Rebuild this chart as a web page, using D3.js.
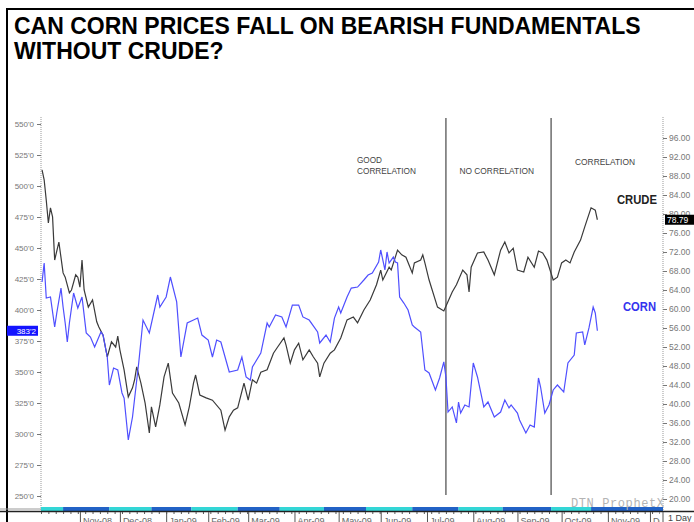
<!DOCTYPE html>
<html>
<head>
<meta charset="utf-8">
<script src="https://cdn.jsdelivr.net/npm/d3@7"></script>
<style>
  body { margin: 0; background: #fff; }
  svg { display: block; font-family: "Liberation Sans", Arial, sans-serif; }
</style>
</head>
<body>
<div id="chart"></div>
<script>
// x is counted in trading sessions from 1 Oct 2008 (ProphetX skips non-trading days)
const months = ["Oct-08", "Nov-08", "Dec-08", "Jan-09", "Feb-09", "Mar-09", "Apr-09", "May-09",
                "Jun-09", "Jul-09", "Aug-09", "Sep-09", "Oct-09", "Nov-09", "Dec-09"];
const sessionsPerMonth = [23, 19, 22, 20, 19, 22, 21, 20, 22, 22, 21, 21, 22, 20, 22];

// crude oil, $/bbl (right scale)
const crudeSession = [5, 6, 7, 8, 9, 10, 11, 13, 15, 16, 18, 19, 21, 22, 23, 24, 25, 27, 29, 31,
  32, 34, 36, 38, 40, 41, 42, 44, 46, 48, 49, 50, 52, 54, 56, 57, 59, 61, 63, 65,
  67, 70, 73, 75, 77, 78, 80, 83, 86, 90, 92, 94, 96, 98, 101, 103, 105, 107, 109, 112,
  115, 117, 120, 121, 123, 125, 127, 129, 132, 134, 136, 137, 139, 142, 144, 147, 150, 153, 155, 158,
  161, 164, 166, 167, 170, 171, 174, 176, 178, 181, 182, 185, 186, 187, 189, 193, 196, 197, 200, 202,
  205, 207, 208, 209, 212, 215, 217, 220, 223, 225, 227, 229, 231, 234, 236, 239, 241, 243, 245, 248,
  250, 252, 254, 256, 258, 261, 263, 266, 268, 269];
const crudeClose = [89.3, 87.2, 82.9, 78.1, 81.3, 79.4, 70.3, 74.1, 67.6, 66.7, 63.4, 64.0, 67.2, 66.7, 64.6, 70.3, 64.0, 60.4, 61.9, 57.3,
  56.2, 54.5, 49.9, 53.1, 52.0, 54.3, 51.4, 47.2, 41.5, 43.4, 45.1, 47.8, 44.4, 40.2, 33.9, 39.4, 35.2, 39.8, 45.7, 48.6,
  42.3, 40.2, 35.6, 39.4, 44.4, 46.1, 41.9, 41.3, 40.8, 38.7, 34.5, 37.3, 38.7, 39.2, 44.4, 40.8, 45.1, 44.4, 46.7, 47.2,
  50.7, 52.0, 53.9, 52.4, 48.6, 51.4, 52.8, 49.3, 51.4, 49.9, 48.6, 45.7, 48.6, 50.7, 51.4, 53.9, 57.7, 58.3, 57.1, 59.8,
  61.9, 65.1, 68.2, 66.1, 68.8, 68.2, 72.4, 71.4, 70.9, 67.6, 69.7, 70.3, 71.4, 69.7, 66.1, 60.4, 59.6, 60.6, 63.6, 65.1,
  68.2, 67.2, 63.6, 68.8, 71.8, 72.0, 70.3, 67.2, 72.4, 74.1, 71.8, 72.8, 68.2, 67.8, 70.9, 68.8, 72.2, 71.8, 70.3, 66.1,
  66.7, 69.7, 70.3, 69.7, 72.0, 74.5, 77.3, 81.3, 80.8, 78.79];

// corn, cents/bu (left scale)
const cornSession = [5, 6, 7, 9, 11, 12, 14, 15, 16, 17, 18, 20, 22, 24, 26, 28, 30, 33, 34, 36,
  37, 39, 41, 43, 44, 46, 48, 51, 53, 56, 60, 61, 64, 66, 69, 71, 74, 77, 79, 81,
  84, 86, 88, 90, 94, 98, 100, 102, 104, 105, 109, 112, 113, 116, 119, 121, 124, 127, 129, 132,
  136, 137, 140, 142, 144, 146, 147, 150, 152, 155, 158, 160, 162, 165, 166, 168, 169, 170, 172, 173,
  174, 175, 177, 179, 181, 182, 185, 187, 189, 192, 194, 196, 197, 198, 200, 202, 203, 204, 206, 208,
  210, 212, 215, 217, 220, 223, 225, 227, 228, 231, 232, 235, 237, 239, 241, 242, 244, 246, 248, 250,
  253, 255, 258, 259, 262, 263, 265, 267, 268, 269];
const cornClose = [422.6, 437.9, 409.7, 410.5, 386.3, 397.6, 417.7, 402.4, 389.5, 374.2, 389.5, 413.7, 401.6, 410.5, 381.5, 378.2, 370.2, 382.3, 379.8, 362.1,
  339.5, 353.2, 351.6, 333.1, 329.0, 295.2, 313.7, 358.1, 391.9, 381.5, 412.1, 402.4, 410.5, 426.6, 406.5, 362.1, 389.5, 391.9, 393.5, 379.8,
  375.8, 362.1, 375.8, 374.2, 350.0, 351.6, 362.1, 346.0, 343.5, 354.0, 365.3, 389.5, 386.3, 396.0, 394.4, 386.3, 404.0, 404.0, 394.4, 391.9,
  382.3, 373.4, 379.8, 374.2, 393.5, 402.4, 397.6, 410.5, 417.7, 418.5, 424.2, 428.2, 429.8, 438.7, 448.4, 432.3, 446.8, 437.9, 442.7, 438.7,
  437.9, 410.5, 405.6, 400.0, 387.9, 386.3, 382.3, 351.6, 349.2, 335.5, 345.2, 358.1, 346.0, 317.7, 321.8, 308.9, 325.8, 316.9, 323.4, 321.8,
  357.3, 346.0, 321.8, 325.8, 313.7, 317.7, 327.4, 321.0, 323.4, 316.9, 311.3, 300.8, 307.3, 305.6, 345.2, 337.9, 316.9, 323.4, 335.5, 339.5,
  333.9, 357.3, 363.7, 381.5, 382.3, 371.8, 385.5, 402.4, 397.6, 383.25];

const cornTicks = [250, 275, 300, 325, 350, 375, 400, 425, 450, 475, 500, 525, 550];
const crudeTicks = [20, 24, 28, 32, 36, 40, 44, 48, 52, 56, 60, 64, 68, 72, 76, 80, 84, 88, 92, 96];

// sessions where the correlation regime changes
const regimeBreaks = [197, 247];
// sessions where the shaded strip under the chart flips colour
const bandBreaks = [15, 37, 57, 76, 98, 118, 139, 159, 181, 203, 224, 247, 266];

const W = 694, H = 522;
const plot = { left: 41, right: 663, top: 117, bottom: 511 };

const svg = d3.select("#chart").append("svg")
  .attr("width", W)
  .attr("height", H);

svg.append("rect").attr("width", W).attr("height", H).attr("fill", "#fff");

// frame
svg.append("path")
  .attr("d", `M7,${H + 2}V9H${W + 2}`)
  .attr("fill", "none")
  .attr("stroke", "#000")
  .attr("stroke-width", 2);

// title
const title = svg.append("text")
  .attr("font-size", 23)
  .attr("font-weight", "bold")
  .attr("fill", "#000");
title.append("tspan").attr("x", 14).attr("y", 34).text("CAN CORN PRICES FALL ON BEARISH FUNDAMENTALS");
title.append("tspan").attr("x", 14).attr("y", 59).text("WITHOUT CRUDE?");

// scales
const x = d3.scaleLinear().domain([4.5, 300.2]).range([plot.left, plot.right]);
const yCorn = d3.scaleLinear().domain([250, 550]).range([496, 124]);
const yCrude = d3.scaleLinear().domain([20, 96]).range([499, 138]);

const monthStart = d3.cumsum([0].concat(sessionsPerMonth.slice(0, -1)));

// left axis (corn)
svg.append("line")
  .attr("x1", plot.left).attr("x2", plot.left)
  .attr("y1", plot.top).attr("y2", plot.bottom)
  .attr("stroke", "#999")
  .attr("stroke-dasharray", "1,1");

const leftAxis = svg.append("g")
  .attr("transform", `translate(${plot.left},0)`)
  .call(d3.axisLeft(yCorn).tickValues(cornTicks).tickSize(4).tickFormat(d => d + "'0"));
leftAxis.select(".domain").remove();
leftAxis.selectAll("line").attr("stroke", "#777");
leftAxis.selectAll("text")
  .attr("font-size", 8)
  .attr("font-family", "Liberation Sans, Arial, sans-serif")
  .attr("fill", "#777");

// right axis (crude)
svg.append("line")
  .attr("x1", plot.right).attr("x2", plot.right)
  .attr("y1", plot.top).attr("y2", plot.bottom)
  .attr("stroke", "#999")
  .attr("stroke-dasharray", "1,1");

const rightAxis = svg.append("g")
  .attr("transform", `translate(${plot.right},0)`)
  .call(d3.axisRight(yCrude).tickValues(crudeTicks).tickSize(4).tickFormat(d3.format(".2f")));
rightAxis.select(".domain").remove();
rightAxis.selectAll("line").attr("stroke", "#777");
rightAxis.selectAll("text")
  .attr("x", 6)
  .attr("font-size", 8.5)
  .attr("font-family", "Liberation Sans, Arial, sans-serif")
  .attr("fill", "#777");

// colour strip
const bandEdges = [x.domain()[0]].concat(bandBreaks, [x.domain()[1]]);
svg.append("g").selectAll("rect")
  .data(d3.pairs(bandEdges))
  .join("rect")
    .attr("x", d => x(d[0]))
    .attr("width", d => x(d[1]) - x(d[0]))
    .attr("y", 507)
    .attr("height", 4)
    .attr("fill", (d, i) => i % 2 === 0 ? "#33d6d6" : "#2262c6");

svg.append("line")
  .attr("x1", 0).attr("x2", plot.left)
  .attr("y1", 509).attr("y2", 509)
  .attr("stroke", "#999");
svg.append("line")
  .attr("x1", 0).attr("x2", W)
  .attr("y1", 511.5).attr("y2", 511.5)
  .attr("stroke", "#222")
  .attr("stroke-width", 1.5);

// bottom axis: month ticks + small ticks
const visibleMonths = months
  .map((m, i) => ({ label: m, s: monthStart[i] }))
  .filter(d => d.s >= x.domain()[0]);

svg.append("defs").append("clipPath").attr("id", "xclip")
  .append("rect").attr("x", plot.left).attr("y", 512).attr("width", plot.right - plot.left - 3).attr("height", 12);

const bottom = svg.append("g").attr("clip-path", "url(#xclip)");
const minorTicks = d3.range(1, 300, 3.5).filter(s => s >= x.domain()[0]);
bottom.append("g")
  .attr("transform", "translate(0,512)")
  .call(d3.axisBottom(x).tickValues(minorTicks).tickSize(2).tickFormat(""))
  .call(g => g.select(".domain").remove())
  .selectAll("line").attr("stroke", "#555");
bottom.append("g")
  .attr("transform", "translate(0,512)")
  .call(d3.axisBottom(x).tickValues(visibleMonths.map(d => d.s)).tickSize(11).tickFormat(""))
  .call(g => g.select(".domain").remove())
  .selectAll("line").attr("stroke", "#555");
bottom.selectAll(".month")
  .data(visibleMonths)
  .join("text")
    .attr("class", "month")
    .attr("x", d => x(d.s) + 3)
    .attr("y", 524)
    .attr("font-size", 9)
    .attr("fill", "#666")
    .text(d => d.label);

svg.append("line")
  .attr("x1", plot.right).attr("x2", plot.right)
  .attr("y1", 512).attr("y2", H)
  .attr("stroke", "#555");
svg.append("text")
  .attr("x", 668).attr("y", 521)
  .attr("font-size", 9)
  .attr("fill", "#444")
  .text("1 Day");

// watermark
svg.append("text")
  .attr("x", 571).attr("y", 506.5)
  .attr("font-family", "Liberation Mono, monospace")
  .attr("font-size", 12)
  .attr("textLength", 93)
  .attr("fill", "#b4b4b4")
  .text("DTN ProphetX");

// regime dividers
svg.append("g").selectAll("line")
  .data(regimeBreaks)
  .join("line")
    .attr("x1", d => x(d)).attr("x2", d => x(d))
    .attr("y1", 118).attr("y2", 495)
    .attr("stroke", "#555")
    .attr("stroke-width", 1.3);

// series
const crude = crudeSession.map((s, i) => ({ s, v: crudeClose[i] }));
const corn = cornSession.map((s, i) => ({ s, v: cornClose[i] }));

svg.append("path")
  .datum(crude)
  .attr("fill", "none")
  .attr("stroke", "#3a3a3a")
  .attr("stroke-width", 1.2)
  .attr("d", d3.line().x(d => x(d.s)).y(d => yCrude(d.v)));

svg.append("path")
  .datum(corn)
  .attr("fill", "none")
  .attr("stroke", "#4f4fff")
  .attr("stroke-width", 1.2)
  .attr("d", d3.line().x(d => x(d.s)).y(d => yCorn(d.v)));

// annotations
const note = (txt, px, py, len) => svg.append("text")
  .attr("x", px).attr("y", py)
  .attr("font-size", 9.5)
  .attr("fill", "#444")
  .attr("textLength", len)
  .attr("lengthAdjust", "spacingAndGlyphs")
  .text(txt);
note("GOOD", 357, 162.5, 25);
note("CORRELATION", 357, 173.5, 59);
note("NO CORRELATION", 459.5, 174, 74.5);
note("CORRELATION", 575, 165, 60);

svg.append("text")
  .attr("x", 617).attr("y", 203.5)
  .attr("font-size", 13.5).attr("font-weight", "bold")
  .attr("textLength", 40).attr("lengthAdjust", "spacingAndGlyphs")
  .attr("fill", "#222")
  .text("CRUDE");
svg.append("text")
  .attr("x", 623).attr("y", 311)
  .attr("font-size", 13.5).attr("font-weight", "bold")
  .attr("textLength", 33).attr("lengthAdjust", "spacingAndGlyphs")
  .attr("fill", "#3333ee")
  .text("CORN");

// last-value flags
const lastCrude = crudeClose[crudeClose.length - 1];
const lastCorn = cornClose[cornClose.length - 1];

svg.append("rect")
  .attr("x", 665).attr("y", yCrude(lastCrude) - 5)
  .attr("width", 30).attr("height", 10)
  .attr("fill", "#000");
svg.append("text")
  .attr("x", 667).attr("y", yCrude(lastCrude) + 3.5)
  .attr("font-size", 8.5)
  .attr("fill", "#fff")
  .text(lastCrude.toFixed(2));

svg.append("rect")
  .attr("x", 7).attr("y", yCorn(lastCorn) - 5)
  .attr("width", 31).attr("height", 10)
  .attr("fill", "#1414ff");
svg.append("text")
  .attr("x", 36).attr("y", yCorn(lastCorn) + 3)
  .attr("text-anchor", "end")
  .attr("font-size", 8)
  .attr("fill", "#fff")
  .text(Math.floor(lastCorn) + "'" + Math.round((lastCorn % 1) * 8));
</script>
</body>
</html>
